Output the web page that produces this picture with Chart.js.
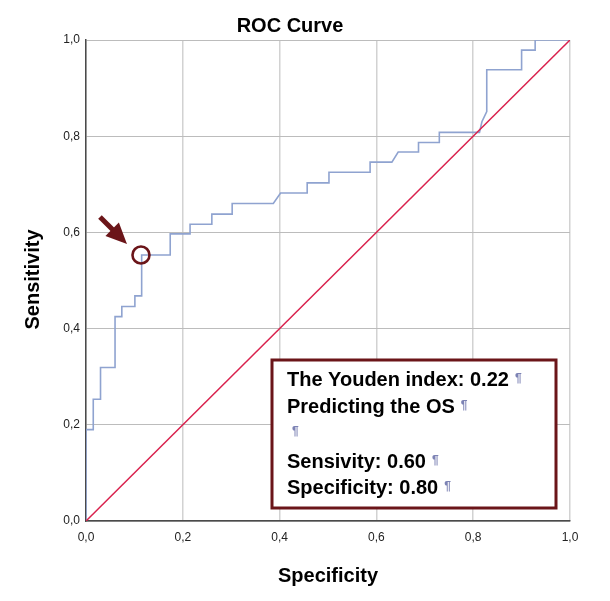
<!DOCTYPE html>
<html><head><meta charset="utf-8">
<script src="https://cdn.jsdelivr.net/npm/chart.js@4"></script>
<style>html,body{margin:0;padding:0;background:#fff;} #wrap{width:610px;height:601px;position:relative;}</style>
</head><body><div id="wrap"><canvas id="c"></canvas></div>
<script>
// ROC curve corner points (x axis = "Specificity" as labelled, y = Sensitivity)
const rocX = [0, 0, 0.015, 0.015, 0.030, 0.030, 0.060, 0.060, 0.074, 0.074, 0.101, 0.101, 0.115, 0.115, 0.174, 0.174, 0.215, 0.215, 0.260, 0.260, 0.302, 0.302, 0.387, 0.402, 0.457, 0.457, 0.502, 0.502, 0.587, 0.587, 0.632, 0.645, 0.687, 0.687, 0.730, 0.730, 0.813, 0.818, 0.828, 0.828, 0.900, 0.900, 0.928, 0.928, 1.0];
const rocY = [0, 0.190, 0.190, 0.253, 0.253, 0.319, 0.319, 0.425, 0.425, 0.446, 0.446, 0.468, 0.468, 0.553, 0.553, 0.597, 0.597, 0.617, 0.617, 0.638, 0.638, 0.660, 0.660, 0.682, 0.682, 0.703, 0.703, 0.725, 0.725, 0.746, 0.746, 0.767, 0.767, 0.787, 0.787, 0.808, 0.808, 0.830, 0.851, 0.938, 0.938, 0.979, 0.979, 1.0, 1.0];
// Reference (chance) line
const refX = [0, 1];
const refY = [0, 1];
// Tick labels
const tickValues = [0, 0.2, 0.4, 0.6, 0.8, 1.0];
const tickLabels = ['0,0', '0,2', '0,4', '0,6', '0,8', '1,0'];
// Texts
const chartTitle = 'ROC Curve';
const xTitle = 'Specificity';
const yTitle = 'Sensitivity';
const noteLines = ['The Youden index: 0.22', 'Predicting the OS', '', 'Sensivity: 0.60', 'Specificity: 0.80'];
// Highlighted cut-off point
const cutoffPoint = [0.1136, 0.553];

const FONT = '"Liberation Sans", Arial, sans-serif';
const DARKRED = '#6b1519';

function tickLabel(v) {
  const i = tickValues.findIndex(t => Math.abs(t - v) < 1e-6);
  return i >= 0 ? tickLabels[i] : '';
}

const annot = {
  id: 'annot',
  afterDraw(chart) {
    const { ctx, chartArea: ca, scales: { x, y } } = chart;
    ctx.save();
    ctx.fillStyle = '#000';
    ctx.font = 'bold 20px ' + FONT;
    ctx.textAlign = 'center';
    ctx.textBaseline = 'alphabetic';
    ctx.fillText(chartTitle, 290, 32);
    ctx.fillText(xTitle, (ca.left + ca.right) / 2, 582);
    ctx.save();
    ctx.translate(39, (ca.top + ca.bottom) / 2 - 1);
    ctx.rotate(-Math.PI / 2);
    ctx.fillText(yTitle, 0, 0);
    ctx.restore();

    // Note box
    ctx.fillStyle = '#fff';
    ctx.fillRect(272, 360, 284, 148);
    ctx.strokeStyle = DARKRED;
    ctx.lineWidth = 3;
    ctx.strokeRect(272, 360, 284, 148);
    const baselines = [386, 412.5, 435, 468, 494];
    ctx.textAlign = 'left';
    noteLines.forEach((t, i) => {
      let px = 287;
      if (t) {
        ctx.font = 'bold 20px ' + FONT;
        ctx.fillStyle = '#000';
        ctx.fillText(t, 287, baselines[i]);
        px = 287 + ctx.measureText(t).width + 6;
        ctx.font = 'bold 12px ' + FONT;
        ctx.fillStyle = '#7c82b4';
        ctx.fillText('\u00B6', px, baselines[i] - 4);
      } else {
        ctx.font = 'bold 12px ' + FONT;
        ctx.fillStyle = '#7c82b4';
        ctx.fillText('\u00B6', 292, baselines[i]);
      }
    });

    // Circle and arrow at cutoff
    const cx = x.getPixelForValue(cutoffPoint[0]);
    const cy = y.getPixelForValue(cutoffPoint[1]);
    ctx.strokeStyle = DARKRED;
    ctx.lineWidth = 2.6;
    ctx.beginPath();
    ctx.arc(cx, cy, 8.5, 0, Math.PI * 2);
    ctx.stroke();

    const tx = cx - 41, ty = cy - 38;
    const hx = cx - 14, hy = cy - 11;
    const dx = hx - tx, dy = hy - ty;
    const len = Math.hypot(dx, dy);
    const ux = dx / len, uy = dy / len;
    const headLen = 21, halfW = 9.5;
    const bx = hx - ux * headLen, by = hy - uy * headLen;
    ctx.fillStyle = DARKRED;
    ctx.lineWidth = 5;
    ctx.lineCap = 'butt';
    ctx.beginPath();
    ctx.moveTo(tx, ty);
    ctx.lineTo(bx + ux * 2, by + uy * 2);
    ctx.stroke();
    ctx.beginPath();
    ctx.moveTo(hx, hy);
    ctx.lineTo(bx - uy * halfW, by + ux * halfW);
    ctx.lineTo(bx + uy * halfW, by - ux * halfW);
    ctx.closePath();
    ctx.fill();
    ctx.restore();
  }
};

Chart.defaults.font.family = FONT;
Chart.defaults.font.size = 12;
Chart.defaults.color = '#222';

new Chart(document.getElementById('c'), {
  type: 'line',
  data: {
    datasets: [
      {
        data: refX.map((v, i) => ({ x: v, y: refY[i] })),
        borderColor: '#d9214d',
        borderWidth: 1.5,
        pointRadius: 0,
        fill: false,
        tension: 0
      },
      {
        data: rocX.map((v, i) => ({ x: v, y: rocY[i] })),
        borderColor: '#8fa3d0',
        borderWidth: 1.6,
        pointRadius: 0,
        fill: false,
        tension: 0
      }
    ]
  },
  options: {
    responsive: true,
    maintainAspectRatio: false,
    animation: false,
    layout: { padding: { top: 40, right: 40, left: 0, bottom: 0 } },
    plugins: { legend: { display: false }, tooltip: { enabled: false }, title: { display: false } },
    scales: {
      x: {
        type: 'linear', min: 0, max: 1,
        afterFit(s) { s.height = 80; },
        grid: { color: '#d2d2d2', lineWidth: 1.5, drawTicks: false },
        border: { color: '#4a4a4a', width: 1.5 },
        ticks: { stepSize: 0.2, padding: 9, maxRotation: 0, callback: v => tickLabel(v), color: '#222' }
      },
      y: {
        type: 'linear', min: 0, max: 1,
        afterFit(s) { s.width = 86; },
        grid: { color: '#bcbcbc', lineWidth: 1, drawTicks: false },
        border: { color: '#4a4a4a', width: 1.5 },
        ticks: { stepSize: 0.2, padding: 6, callback: v => tickLabel(v), color: '#222' }
      }
    }
  },
  plugins: [annot]
});
</script>
</body></html>
